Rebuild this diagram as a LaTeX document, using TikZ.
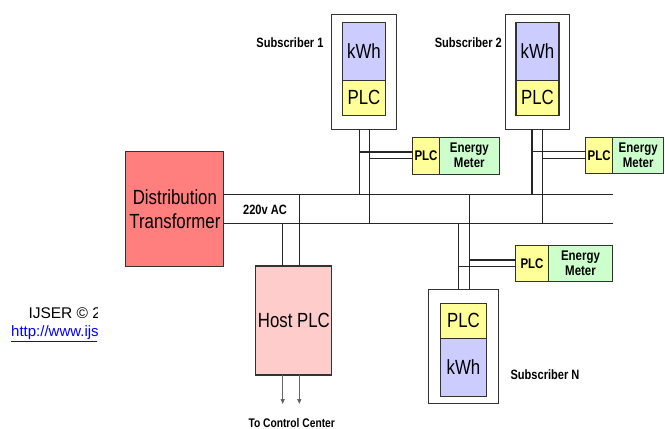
\documentclass[tikz,border=0pt]{standalone}
\usepackage{fontspec}
\setmainfont{Liberation Sans}[FakeStretch=0.82]
\newfontfamily\plainft{Liberation Sans}
\usepackage{xcolor}
\usetikzlibrary{arrows.meta,positioning}
\definecolor{trred}{HTML}{FF7F7F}
\definecolor{hostpink}{HTML}{FFCCCC}
\definecolor{kwhblue}{HTML}{CCCCFF}
\definecolor{plcyel}{HTML}{FFFF99}
\definecolor{emgreen}{HTML}{CCFFCC}
\newcommand{\bigtxt}{\fontsize{20.5}{24}\selectfont}
\newcommand{\midtxt}{\fontsize{14}{15}\selectfont\bfseries}
\newcommand{\lbltxt}{\fontsize{13.5}{15}\selectfont\bfseries}

\begin{document}
\begin{tikzpicture}[x=1pt, y=-1pt,
        blk/.style={draw=black!80, line width=1.1pt, inner sep=0pt, outer sep=0pt, align=center},
        big/.style={blk, font=\bigtxt},
        small/.style={blk, font=\midtxt},
        lbl/.style={inner sep=0pt, font=\lbltxt},
        wire/.style={draw=black!85, line width=1.1pt},
        arrow/.style={-{Triangle[length=5pt,width=4pt,fill=black!85]}, draw=black!60, line width=1.1pt}
    ]
    \useasboundingbox (0,0) rectangle (665,429);

    \node[big, fill=trred, minimum width=98pt, minimum height=115pt] (tr) at (174.9,209.2) {Distribution\\Transformer};
    \node[big, fill=hostpink, minimum width=76pt, minimum height=109pt] (host) at (293.9,320.5) {Host PLC};

    \node[blk, fill=white, minimum width=65pt, minimum height=115pt] (s1) at (364.2,71.8) {};
    \node[big, fill=kwhblue, minimum width=43.4pt, minimum height=57.3pt] (k1) at (364,51.4) {kWh};
    \node[big, fill=plcyel, minimum width=43.4pt, minimum height=35pt, below=0pt of k1] (q1) {PLC};
    \node[lbl] (n1) at (290,43) {Subscriber 1};

    \node[blk, fill=white, minimum width=64.4pt, minimum height=115pt] (s2) at (537.5,71.8) {};
    \node[big, fill=kwhblue, minimum width=43pt, minimum height=57.3pt] (k2) at (537.5,51.4) {kWh};
    \node[big, fill=plcyel, minimum width=43pt, minimum height=35pt, below=0pt of k2] (q2) {PLC};
    \node[lbl] (n2) at (468.3,43) {Subscriber 2};

    \node[blk, fill=white, minimum width=69.6pt, minimum height=114.3pt] (sn) at (463.5,346.2) {};
    \node[big, fill=plcyel, minimum width=46.4pt, minimum height=35.3pt] (qn) at (463.5,320.7) {PLC};
    \node[big, fill=kwhblue, minimum width=46.4pt, minimum height=58.4pt, below=0pt of qn] (kn) {kWh};
    \node[lbl] (nn) at (545,375) {Subscriber N};

    \node[small, fill=plcyel, minimum width=26.6pt, minimum height=36.7pt] (p1) at (426,155.7) {PLC};
    \node[small, fill=emgreen, minimum width=60pt, minimum height=36.7pt, right=0pt of p1] (m1) {Energy\\Meter};
    \node[small, fill=plcyel, minimum width=27pt, minimum height=36pt] (p2) at (599.2,155.3) {PLC};
    \node[small, fill=emgreen, minimum width=51pt, minimum height=36pt, right=0pt of p2] (m2) {Energy\\Meter};
    \node[small, fill=plcyel, minimum width=32.6pt, minimum height=35.3pt] (pn) at (532,263.4) {PLC};
    \node[small, fill=emgreen, minimum width=64.4pt, minimum height=35.3pt, right=0pt of pn] (mn) {Energy\\Meter};

    \coordinate (busT) at (613,194.5);
    \coordinate (busB) at (613,223.3);
    \draw[wire] (tr.east |- busT) -- (busT);
    \draw[wire] (tr.east |- busB) -- (busB);
    \node[lbl] (ac) at (265,210) {220v AC};

    \coordinate (h1) at ([xshift=-11.4pt]host.north);
    \coordinate (h2) at ([xshift=5.4pt]host.north);
    \draw[wire] (h2 |- busT) -- (h2);
    \draw[wire] (h1 |- busB) -- (h1);

    \coordinate (s1a) at ([xshift=-4.9pt]s1.south);
    \coordinate (s1b) at ([xshift=5.6pt]s1.south);
    \coordinate (t1a) at ([yshift=3.7pt]p1.west);
    \coordinate (t1b) at ([yshift=-2.6pt]p1.west);
    \draw[wire] (s1a) -- (s1a |- busT);
    \draw[wire] (s1b) -- (s1b |- busB);
    \draw[wire] (s1a |- t1a) -- (t1a);
    \draw[wire] (s1b |- t1b) -- (t1b);

    \coordinate (s2a) at ([xshift=-5.5pt]s2.south);
    \coordinate (s2b) at ([xshift=4.8pt]s2.south);
    \coordinate (t2a) at ([yshift=3.6pt]p2.west);
    \coordinate (t2b) at ([yshift=-3pt]p2.west);
    \draw[wire] (s2a) -- (s2a |- busT);
    \draw[wire] (s2b) -- (s2b |- busB);
    \draw[wire] (s2a |- t2a) -- (t2a);
    \draw[wire] (s2b |- t2b) -- (t2b);

    \coordinate (sna) at ([xshift=6.2pt]sn.north);
    \coordinate (snb) at ([xshift=-5.2pt]sn.north);
    \coordinate (tna) at ([yshift=3.4pt]pn.west);
    \coordinate (tnb) at ([yshift=-3.3pt]pn.west);
    \draw[wire] (sna |- busT) -- (sna);
    \draw[wire] (snb |- busB) -- (snb);
    \draw[wire] (sna |- tna) -- (tna);
    \draw[wire] (snb |- tnb) -- (tnb);

    \node[lbl, font=\fontsize{12.5}{14}\selectfont\bfseries] (cc) at (291.7,423) {To Control Center};
    \coordinate (ccin) at (0,404);
    \coordinate (o1) at ([xshift=-11.2pt]host.south);
    \coordinate (o2) at ([xshift=5.4pt]host.south);
    \draw[arrow] (o1) -- (o1 |- ccin);
    \draw[arrow] (o2) -- (o2 |- ccin);

    \begin{scope}
    \clip (0,290) rectangle (97,345);
    \node[anchor=west, inner sep=0pt, font=\plainft\fontsize{15.5}{17}\selectfont] (ij) at (28.3,313.3) {IJSER \textcopyright\ 2013};
    \node[anchor=west, inner sep=0pt, text=blue, font=\plainft\fontsize{15}{17}\selectfont] (url) at (11,333.5) {\underline{http://www.ijser.org}};
    \end{scope}
\end{tikzpicture}
\end{document}
